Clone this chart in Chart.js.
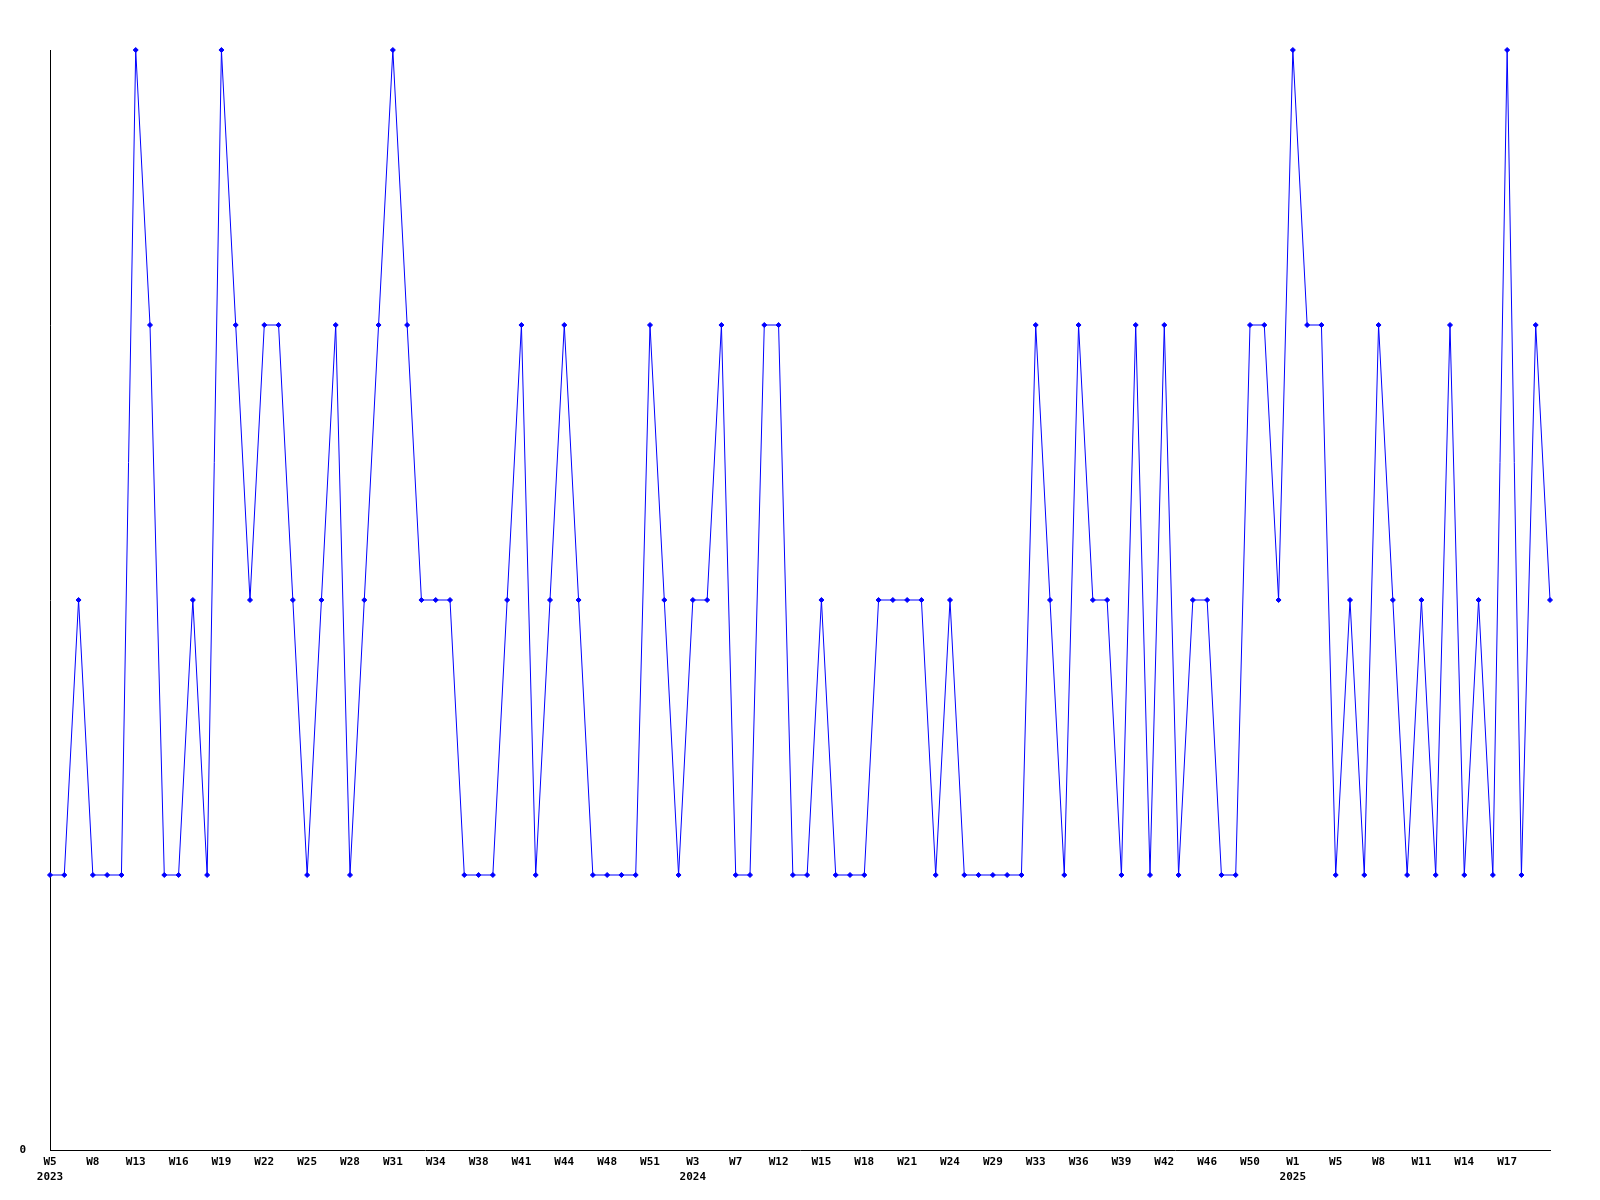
<!DOCTYPE html>
<html>
<head>
<meta charset="utf-8">
<script src="https://cdn.jsdelivr.net/npm/chart.js@4/dist/chart.umd.min.js"></script>
<style>
  body { margin: 0; background: #fff; }
  canvas { display: block; }
</style>
</head>
<body>
<canvas id="chart" width="1600" height="1200"></canvas>
<script>
// valores (um ponto por observação)
const values = [
  1, 1, 2, 1, 1, 1, 4, 3, 1, 1, 2, 1, 4, 3, 2, 3, 3, 2, 1, 2,
  3, 1, 2, 3, 4, 3, 2, 2, 2, 1, 1, 1, 2, 3, 1, 2, 3, 2, 1, 1,
  1, 1, 3, 2, 1, 2, 2, 3, 1, 1, 3, 3, 1, 1, 2, 1, 1, 1, 2, 2,
  2, 2, 1, 2, 1, 1, 1, 1, 1, 3, 2, 1, 3, 2, 2, 1, 3, 1, 3, 1,
  2, 2, 1, 1, 3, 3, 2, 4, 3, 3, 1, 2, 1, 3, 2, 1, 2, 1, 3, 1,
  2, 1, 4, 1, 3, 2
];

// rótulos do eixo x (um a cada 3 pontos)
const weekLabels = [
  'W5', 'W8', 'W13', 'W16', 'W19', 'W22', 'W25', 'W28', 'W31', 'W34',
  'W38', 'W41', 'W44', 'W48', 'W51', 'W3', 'W7', 'W12', 'W15', 'W18',
  'W21', 'W24', 'W29', 'W33', 'W36', 'W39', 'W42', 'W46', 'W50', 'W1',
  'W5', 'W8', 'W11', 'W14', 'W17'
];
const yearLabels = ['2023', '2024', '2025'];
const yearAt = [0, 15, 29]; // posição do rótulo de semana que leva o ano
const labelStep = 3;

// categorias: rótulo de semana a cada 3 pontos, vazio no resto
const categories = values.map((v, i) => {
  if (i % labelStep !== 0) return '';
  const n = i / labelStep;
  if (n >= weekLabels.length) return '';
  const y = yearAt.indexOf(n);
  return y >= 0 ? [weekLabels[n], yearLabels[y]] : weekLabels[n];
});

const font = { family: "'DejaVu Sans Mono', monospace", size: 11, weight: 'bold', lineHeight: '15px' };

new Chart(document.getElementById('chart'), {
  type: 'line',
  data: {
    labels: categories,
    datasets: [{
      data: values,
      borderColor: '#0000ff',
      backgroundColor: '#0000ff',
      borderWidth: 1,
      tension: 0,
      pointStyle: 'rectRot',
      pointRadius: 2.5,
      pointBorderWidth: 1,
      clip: false
    }]
  },
  options: {
    responsive: false,
    animation: false,
    layout: { padding: { top: 50, right: 50, left: 0, bottom: 0 } },
    plugins: { legend: { display: false }, tooltip: { enabled: false } },
    scales: {
      x: {
        offset: false,
        grid: { display: false, drawTicks: false },
        border: { display: true, color: '#000', width: 1 },
        ticks: {
          autoSkip: false,
          maxRotation: 0,
          padding: 5,
          color: '#000',
          font: font
        },
        afterFit: s => { s.height = 50; }
      },
      y: {
        min: 0,
        max: 4,
        grid: { display: false, drawTicks: false },
        border: { display: true, color: '#000', width: 1 },
        ticks: { padding: 24, color: '#000', font: font },
        afterBuildTicks: s => { s.ticks = [{ value: 0 }]; },
        afterFit: s => { s.width = 50; }
      }
    }
  }
});
</script>
</body>
</html>
